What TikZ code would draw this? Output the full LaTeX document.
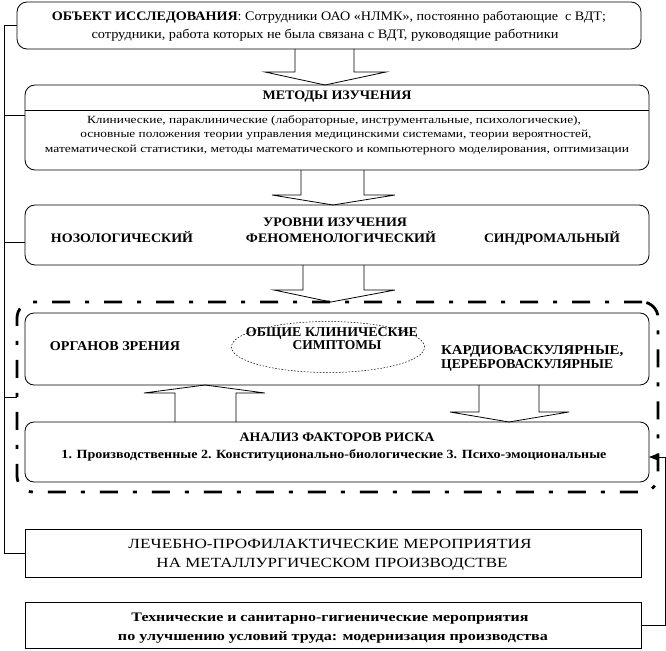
\documentclass[tikz,border=0pt]{standalone}
\usepackage{fontspec}
\setmainfont{Liberation Serif}
\usepackage{graphicx}
\usetikzlibrary{shapes.geometric,arrows.meta}
\newcommand\fitw[2]{\resizebox{#1}{\height}{#2}}
\newcommand\fsz[1]{\fontsize{#1}{#1}\selectfont}
\tikzset{
 box/.style={draw, line width=0.8pt, inner sep=0pt, outer sep=0pt, anchor=north west},
 rbox/.style={box, rounded corners=10pt},
 grpbox/.style={draw, line width=2.8pt, dash pattern=on 18pt off 15pt on 4pt off 15pt,
   rounded corners=16pt, inner sep=0pt, outer sep=0pt, anchor=north west},
 txt/.style={inner sep=0pt, anchor=base},
 ltxt/.style={inner sep=0pt, anchor=base west},
 barrow/.style={draw, line width=0.8pt, line join=miter},
 wire/.style={draw, line width=0.8pt},
 ovalbox/.style={draw, ellipse, line width=0.5pt, dash pattern=on 1.6pt off 1.6pt, inner sep=0pt},
}
\begin{document}
\begin{tikzpicture}[x=1pt,y=-1pt]
\useasboundingbox (0,0) rectangle (666,650);

% group frame
\node[grpbox, minimum width=641pt, minimum height=190pt] (grp) at (17,302) {};

% boxes
\node[rbox, minimum width=624pt, minimum height=47pt] (b1) at (17,2) {};
\node[rbox, minimum width=624pt, minimum height=85pt] (b2) at (25,85) {};
\node[rbox, minimum width=624pt, minimum height=60pt] (b3) at (25,205) {};
\node[rbox, rounded corners=9pt, minimum width=624pt, minimum height=72pt] (b4) at (25,313) {};
\node[rbox, rounded corners=9pt, minimum width=624pt, minimum height=60pt] (b5) at (25,422) {};
\node[box, minimum width=616pt, minimum height=48pt] (b6) at (25,529) {};
\node[box, minimum width=616pt, minimum height=46pt] (b7) at (25,602) {};

\node[ovalbox, minimum width=193pt, minimum height=51pt] (ell) at (328,347) {};

% texts box 1
\node[txt] (t1a) at (329,20.5) {\fsz{13}\fitw{554pt}{\textbf{ОБЪЕКТ ИССЛЕДОВАНИЯ}: Сотрудники ОАО «НЛМК», постоянно работающие\ \ с ВДТ;}};
\node[txt] (t1b) at (325,38.5) {\fsz{13}\fitw{467pt}{сотрудники, работа которых не была связана с ВДТ, руководящие работники}};

% box 2
\node[txt] (t2h) at (337,99.5) {\fsz{13}\fitw{149pt}{\textbf{МЕТОДЫ ИЗУЧЕНИЯ}}};
\draw[wire] (b2.west |- 0,110) -- (b2.east |- 0,110);
\node[txt] (t2a) at (334,123.5) {\fsz{11}\fitw{494pt}{Клинические, параклинические (лабораторные, инструментальные, психологические),}};
\node[txt] (t2b) at (336,137.5) {\fsz{11}\fitw{511pt}{основные положения теории управления медицинскими системами, теории вероятностей,}};
\node[txt] (t2c) at (337,152.5) {\fsz{11}\fitw{584pt}{математической статистики, методы математического и компьютерного моделирования, оптимизации}};

% box 3
\node[txt] (t3h) at (335,226.5) {\fsz{13}\fitw{144pt}{\textbf{УРОВНИ ИЗУЧЕНИЯ}}};
\node[txt] (t3a) at (122,242.5) {\fsz{13}\fitw{142pt}{\textbf{НОЗОЛОГИЧЕСКИЙ}}};
\node[txt] (t3b) at (341,242.5) {\fsz{13}\fitw{190pt}{\textbf{ФЕНОМЕНОЛОГИЧЕСКИЙ}}};
\node[txt] (t3c) at (552,242.5) {\fsz{13}\fitw{136pt}{\textbf{СИНДРОМАЛЬНЫЙ}}};

% box 4
\node[txt] (t4a) at (115,350.5) {\fsz{13.5}\fitw{130pt}{\textbf{ОРГАНОВ ЗРЕНИЯ}}};
\node[txt] (t4b) at (332,336.5) {\fsz{13.5}\fitw{172pt}{\textbf{ОБЩИЕ КЛИНИЧЕСКИЕ}}};
\node[txt] (t4c) at (337,349.5) {\fsz{13.5}\fitw{89pt}{\textbf{СИМПТОМЫ}}};
\node[ltxt] (t4d) at (441,354.5) {\fsz{13.5}\fitw{182pt}{\textbf{КАРДИОВАСКУЛЯРНЫЕ,}}};
\node[ltxt] (t4e) at (441,368) {\fsz{13.5}\fitw{172pt}{\textbf{ЦЕРЕБРОВАСКУЛЯРНЫЕ}}};

% box 5
\node[txt] (t5a) at (337,441.5) {\fsz{13}\fitw{195pt}{\textbf{АНАЛИЗ ФАКТОРОВ РИСКА}}};
\node[txt] (t5b) at (334,458) {\fsz{12.5}\fitw{545pt}{\textbf{1. Производственные 2. Конституционально-биологические 3. Психо-эмоциональные}}};

% box 6
\node[txt] (t6a) at (330,548) {\fsz{14}\fitw{403pt}{ЛЕЧЕБНО-ПРОФИЛАКТИЧЕСКИЕ МЕРОПРИЯТИЯ}};
\node[txt] (t6b) at (332,567) {\fsz{14}\fitw{351pt}{НА МЕТАЛЛУРГИЧЕСКОМ ПРОИЗВОДСТВЕ}};

% box 7
\node[txt] (t7a) at (330,621.5) {\fsz{13}\fitw{397pt}{\textbf{Технические и санитарно-гигиенические мероприятия}}};
\node[txt] (t7b) at (333,640.5) {\fsz{13}\fitw{430pt}{\textbf{по улучшению условий труда: модернизация производства}}};

% block arrows
\draw[barrow] (295,0 |- b1.south) -- (295,72) -- (265,72) -- (325,0 |- b2.north)
  -- (386,72) -- (354,72) -- (354,0 |- b1.south);
\draw[barrow] (301,0 |- b2.south) -- (301,195) -- (272,195) -- (333,0 |- b3.north)
  -- (395,195) -- (364,195) -- (364,0 |- b2.south);
\draw[barrow] (303,0 |- b3.south) -- (303,290) -- (274,290) -- (331,0 |- grp.north)
  -- (395,290) -- (364,290) -- (364,0 |- b3.south);
\draw[barrow] (175,0 |- b5.north) -- (175,393) -- (144,393) -- (205,0 |- b4.south)
  -- (265,393) -- (236,393) -- (236,0 |- b5.north);
\draw[barrow] (479,0 |- b4.south) -- (479,412) -- (450,412) -- (509,0 |- b5.north)
  -- (569,412) -- (539,412) -- (539,0 |- b4.south);

% left spine
\coordinate (s2) at (4,115);
\coordinate (s3) at (4,242);
\coordinate (sg) at (4,397);
\draw[wire] (b1.west) -- (4,0 |- b1.west) -- (4,0 |- b6.west) -- (b6.west);
\draw[wire] (s2) -- (b2.west |- s2);
\draw[wire] (s3) -- (b3.west |- s3);
\draw[wire] (sg) -- (grp.west |- sg);

% right connector
\draw[wire, -{Triangle[length=8pt,width=6pt]}] (b7.east) -- (665,0 |- b7.east) -- (665,457) -- (b5.east |- 0,457);
\end{tikzpicture}
\end{document}
